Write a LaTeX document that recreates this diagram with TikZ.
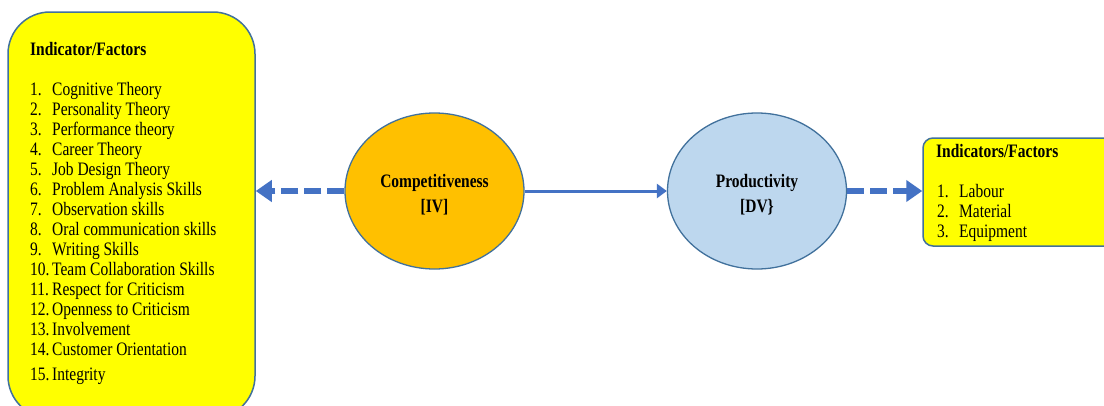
\documentclass[tikz,border=0pt]{standalone}
\usepackage{fontspec}
\setmainfont{Liberation Serif}[FakeStretch=0.815]
\usetikzlibrary{arrows.meta,shapes.geometric}
\definecolor{bord}{HTML}{41719C}
\definecolor{arr}{HTML}{4472C4}
\definecolor{orng}{HTML}{FFC000}
\definecolor{lblue}{HTML}{BDD7EE}
\definecolor{ylw}{HTML}{FFFF00}
\tikzset{
  box/.style={draw=bord, line width=1.5pt, fill=ylw},
  oval/.style={ellipse, draw=bord, line width=1.3pt, minimum width=179pt, minimum height=156pt, inner sep=0pt},
  txt/.style={anchor=base west, inner sep=0pt, font=\fontsize{19}{20}\selectfont},
  btxt/.style={anchor=base west, inner sep=0pt, font=\fontsize{19}{20}\selectfont\bfseries},
  ctxt/.style={anchor=base, inner sep=0pt, font=\fontsize{19}{20}\selectfont\bfseries},
  dasharrow/.style={draw=arr, line width=6.5pt, dash pattern=on 17pt off 6pt, -{Triangle[length=16pt,width=21pt]}},
  solidarrow/.style={draw=arr, line width=3pt, -{Triangle[length=10pt,width=14pt]}}
}
\begin{document}
\begin{tikzpicture}[x=1pt,y=-1pt]
\useasboundingbox (0,0) rectangle (1104,405);
\clip (0,0) rectangle (1104,405);
\fill[white] (0,0) rectangle (1104,405);
% left box
\node[box, rounded corners=42pt, minimum width=247pt, minimum height=406pt, inner sep=0pt] (lb) at (131.5,215) {};
\node[btxt] (lbh) at (30,55) {Indicator/Factors};
\foreach \n/\t/\y in {1/Cognitive Theory/95, 2/Personality Theory/115, 3/Performance theory/135, 4/Career Theory/155, 5/Job Design Theory/175, 6/Problem Analysis Skills/195, 7/Observation skills/215, 8/Oral communication skills/235, 9/Writing Skills/255, 10/Team Collaboration Skills/275, 11/Respect for Criticism/295, 12/Openness to Criticism/315, 13/Involvement/335, 14/Customer Orientation/355, 15/Integrity/380}{
  \node[txt] (ln\n) at (30,\y) {\n.};
  \node[txt] (lt\n) at (52,\y) {\t};
}
% right box
\node[box, rounded corners=10pt, minimum width=200pt, minimum height=108pt, inner sep=0pt] (rb) at (1023,192) {};
\node[btxt] (rbh) at (936,157) {Indicators/Factors};
\foreach \n/\t/\y in {1/Labour/197, 2/Material/217, 3/Equipment/237}{
  \node[txt] (rn\n) at (937,\y) {\n.};
  \node[txt] (rt\n) at (959,\y) {\t};
}
% ellipses
\node[oval, fill=orng] (comp) at (434.5,191) {};
\node[ctxt] (compa) at (434.5,187) {Competitiveness};
\node[ctxt] (compb) at (434.5,212) {[IV]};
\node[oval, fill=lblue] (prod) at (757,191) {};
\node[ctxt] (proda) at (757,187) {Productivity};
\node[ctxt] (prodb) at (757,212) {[DV\}};
% connectors
\draw[dasharrow] (comp.west) -- (comp.west -| lb.east);
\draw[solidarrow] (comp.east) -- (prod.west);
\draw[dasharrow] (prod.east) -- (prod.east -| rb.west);
\end{tikzpicture}
\end{document}
